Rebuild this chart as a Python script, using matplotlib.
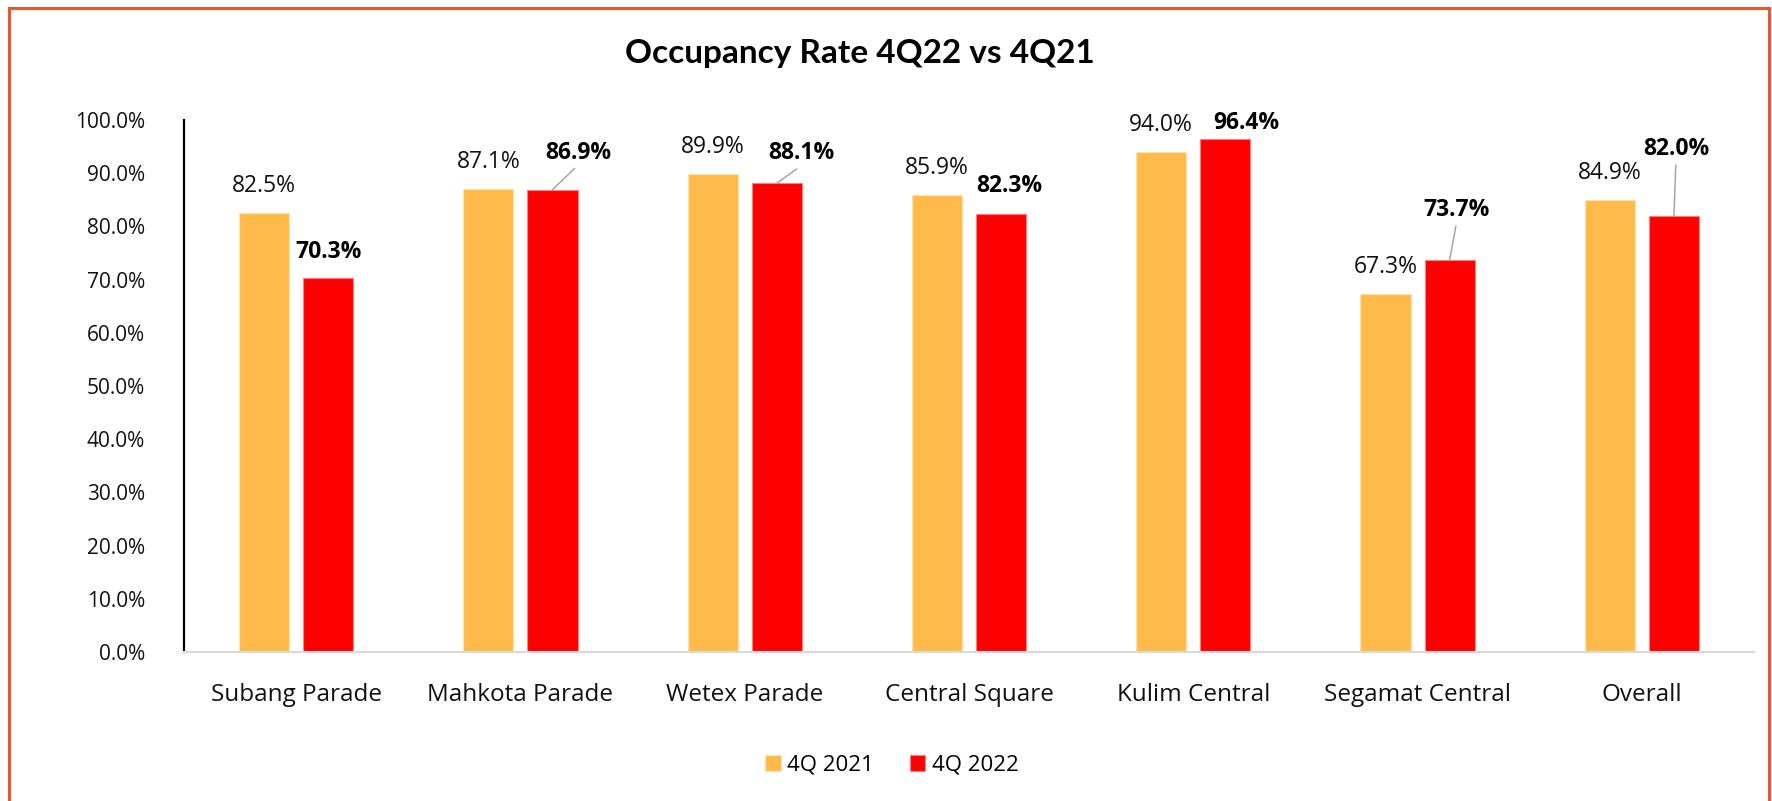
import numpy as np
import matplotlib
matplotlib.use("Agg")
import matplotlib.pyplot as plt
from matplotlib.patches import Rectangle

# data
malls = ["Subang Parade", "Mahkota Parade", "Wetex Parade", "Central Square",
         "Kulim Central", "Segamat Central", "Overall"]
occ_2021 = [82.5, 87.1, 89.9, 85.9, 94.0, 67.3, 84.9]
occ_2022 = [70.3, 86.9, 88.1, 82.3, 96.4, 73.7, 82.0]
series_names = ["4Q 2021", "4Q 2022"]
title = "Occupancy Rate 4Q22 vs 4Q21"

# label placement (pixels from bar top), and which 2022 labels get a leader line
off_2021 = [(0, 27)] * 7
off_2022 = [(0, 26), (26, 37), (25, 30), (8, 28), (21, 16), (7, 50), (2, 67)]
leader_2022 = [False, True, True, False, False, True, True]

c_2021 = "#FFBA4A"
c_2022 = "#FF0000"
font = "Open Sans"

fig = plt.figure(figsize=(17.72, 8.01), dpi=100)
ax = fig.add_axes([184 / 1772, 1 - 652 / 801, (1754 - 184) / 1772, (652 - 120) / 801])

x = np.arange(len(malls))
w = 0.223
d = 0.143
ax.bar(x - d, np.array(occ_2021) / 100, w, color=c_2021, edgecolor="#FFE2B0",
       linewidth=0.8, label=series_names[0])
ax.bar(x + d, np.array(occ_2022) / 100, w, color=c_2022, edgecolor="#FF8080",
       linewidth=0.8, label=series_names[1])

for i in range(len(malls)):
    v = occ_2021[i] / 100
    ax.annotate(f"{occ_2021[i]:.1f}%", xy=(x[i] - d, v), xytext=off_2021[i],
                textcoords="offset pixels", ha="center", va="center",
                fontsize=16.5, family=font, color="#111111")
    v = occ_2022[i] / 100
    arrow = None
    if leader_2022[i]:
        arrow = dict(arrowstyle="-", color="#A6A6A6", lw=1.1,
                     relpos=(0.5, 0.0), shrinkA=1, shrinkB=0)
    ax.annotate(f"{occ_2022[i]:.1f}%", xy=(x[i] + d, v), xytext=off_2022[i],
                textcoords="offset pixels", ha="center", va="center",
                fontsize=16.5, family=font, fontweight="bold", color="black",
                arrowprops=arrow)

ax.set_xlim(-0.5, len(malls) - 0.5)
ax.set_ylim(0, 1.0)
ax.set_yticks(np.arange(0, 1.01, 0.1))
ax.set_yticklabels([f"{t * 100:.1f}%" for t in np.arange(0, 1.01, 0.1)])
ax.set_xticks(x)
ax.set_xticklabels(malls)
ax.tick_params(axis="y", length=0, pad=28, labelsize=15)
ax.tick_params(axis="x", length=0, pad=22, labelsize=17.5)
for lab in ax.get_xticklabels() + ax.get_yticklabels():
    lab.set_family(font)
    lab.set_color("#111111")

for s in ["top", "right"]:
    ax.spines[s].set_visible(False)
ax.spines["left"].set_color("black")
ax.spines["left"].set_linewidth(1.6)
ax.spines["bottom"].set_color("#D9D9D9")
ax.spines["bottom"].set_linewidth(1.5)

fig.text(860 / 1772, 1 - 53 / 801, title, ha="center", va="center",
         fontsize=24, fontweight="bold", family="Lato")

fig.legend(loc="center", bbox_to_anchor=(892 / 1772, 1 - 765 / 801), ncol=2,
           frameon=False, prop={"family": font, "size": 16},
           handlelength=0.7, handleheight=0.7, handletextpad=0.3, columnspacing=1.6)

fig.patches.append(Rectangle((9 / 1772, -0.02), (1769 - 9) / 1772, 1 - 8 / 801 + 0.02,
                             transform=fig.transFigure, fill=False,
                             edgecolor="#E9572F", linewidth=2.2, clip_on=False))

fig.savefig("out.png", dpi=100)
